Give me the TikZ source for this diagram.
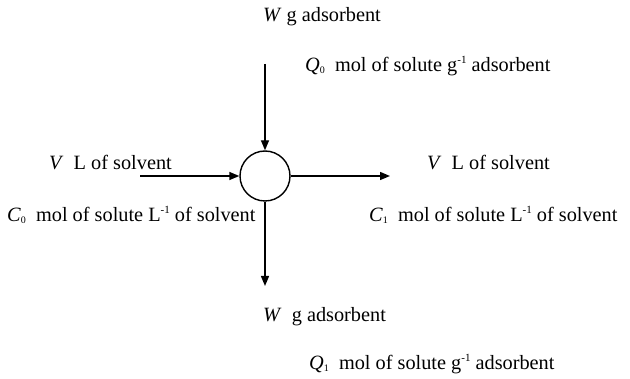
\documentclass[tikz,border=0pt]{standalone}
\usepackage{fontspec}
\setmainfont{Liberation Serif}
\usetikzlibrary{positioning,arrows.meta}

\newcommand{\lo}[1]{\raisebox{-2pt}{\fontsize{10}{10}\selectfont #1}}
\newcommand{\hi}[1]{\raisebox{8pt}{\fontsize{11}{11}\selectfont #1}}

\begin{document}
\begin{tikzpicture}[
  x=1pt, y=-1pt,
  lbl/.style={anchor=base west, inner sep=0pt, font=\fontsize{20.3}{24}\selectfont},
  arr/.style={-{Triangle[length=10pt, width=8pt]}, line width=1.4pt},
]
\useasboundingbox (0,0) rectangle (630,379);

% contactor
\node[draw, circle, line width=1.4pt, minimum size=50pt, inner sep=0pt] (tank) at (265,176) {};

% free ends of the streams
\coordinate (topin) at (265,64);
\coordinate (leftin) at (140,176);
\coordinate (rightout) at (390,176);
\coordinate (botout) at (265,286);

% labels
\node[lbl] (wtop) at (263,22) {\textit{W} g adsorbent};
\node[lbl] (qzero) at (305,72) {\textit{Q}\lo{0}\enspace mol of solute g\hi{-1} adsorbent};
\node[lbl] (vleft) at (49,170) {\textit{V}\enspace L of solvent};
\node[lbl] (czero) at (7,222) {\textit{C}\lo{0}\enspace mol of solute L\hi{-1} of solvent};
\node[lbl] (vright) at (427,170) {\textit{V}\enspace L of solvent};
\node[lbl] (cone) at (369,222) {\textit{C}\lo{1}\enspace mol of solute L\hi{-1} of solvent};
\node[lbl] (wbot) at (263,322) {\textit{W}\enspace g adsorbent};
\node[lbl] (qone) at (309,370) {\textit{Q}\lo{1}\enspace mol of solute g\hi{-1} adsorbent};

\draw[arr] (topin) -- (tank);
\draw[arr] (leftin) -- (tank);
\draw[arr] (tank) -- (rightout);
\draw[arr] (tank) -- (botout);
\end{tikzpicture}
\end{document}
